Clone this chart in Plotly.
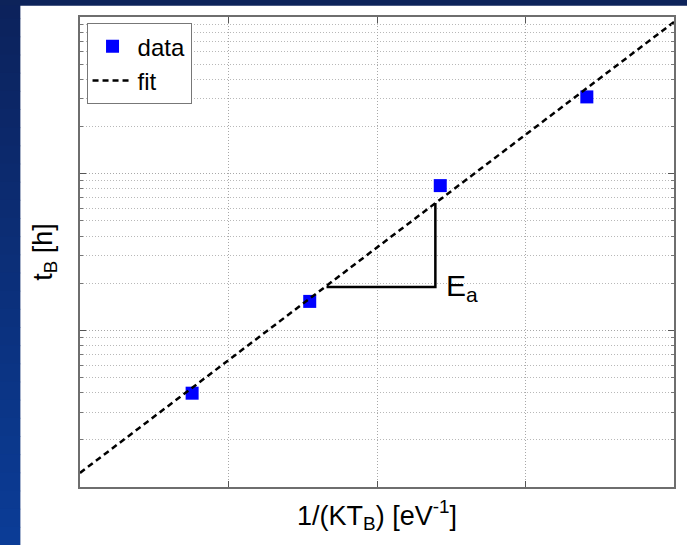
import math
import plotly.graph_objects as go

# ---- data (x axis has no labels, arbitrary units) ----
data_x = [0.755, 1.547, 2.426, 3.413]
data_y = [3.97, 15.3, 83.9, 309.0]

fit_x = [0.0, 4.0]
fit_y = [1.23, 929.0]

tri_x = [1.66, 2.393, 2.393]
tri_y = [18.9, 18.9, 64.9]

ea_x = 2.45
ea_y = 18.7

x_ticks = [1, 2, 3]
y_ticks = [1, 10, 100, 1000]
y_minor = [k * 10 ** d for d in range(0, 3) for k in range(2, 10)]

FONT = "Liberation Sans, Arial, sans-serif"

fig = go.Figure()

fig.add_trace(go.Scatter(
    x=data_x, y=data_y, mode="markers", name="data",
    marker=dict(symbol="square", size=13, color="#0000ff",
                line=dict(width=0)),
))
fig.add_trace(go.Scatter(
    x=fit_x, y=fit_y, mode="lines", name="fit",
    line=dict(color="black", width=2.5, dash="6px,4px"),
))
fig.add_trace(go.Scatter(
    x=tri_x, y=tri_y, mode="lines", showlegend=False,
    line=dict(color="black", width=2.5),
))

# annotations on a log axis take log10 positions
fig.add_annotation(
    x=ea_x, y=math.log10(ea_y), xref="x", yref="y",
    yanchor="middle", xanchor="left",
    text="E<sub>a</sub>", showarrow=False,
    font=dict(family=FONT, size=30, color="black"),
)

# slide background: dark top band and left gradient strip
shapes = []
W, H = 687, 545
pw, ph = 596, 470
l, b = 80, 58


def px2paper_x(px):
    return (px - l) / pw


def px2paper_y(py):
    return (H - b - py) / ph


shapes.append(dict(type="rect", xref="paper", yref="paper",
                   x0=px2paper_x(20), x1=px2paper_x(W + 5),
                   y0=px2paper_y(H + 5), y1=px2paper_y(5.5),
                   fillcolor="white", line=dict(width=0), layer="below"))
n = 30
c0 = (12, 34, 92)
c1 = (11, 60, 150)
for i in range(n):
    t = i / (n - 1)
    col = tuple(round(c0[j] + (c1[j] - c0[j]) * t) for j in range(3))
    y0 = H * i / n
    y1 = H * (i + 1) / n + 1
    shapes.append(dict(type="rect", xref="paper", yref="paper",
                       x0=px2paper_x(-5), x1=px2paper_x(20),
                       y0=px2paper_y(y1), y1=px2paper_y(y0),
                       fillcolor="rgb(%d,%d,%d)" % col, line=dict(width=0),
                       layer="below"))
shapes.append(dict(type="rect", xref="paper", yref="paper",
                   x0=px2paper_x(-5), x1=px2paper_x(W + 5),
                   y0=px2paper_y(5.5), y1=px2paper_y(-5),
                   fillcolor="rgb(13,35,90)", line=dict(width=0),
                   layer="below"))

axis_common = dict(
    showline=True, linecolor="#6e6e6e", linewidth=1.5, mirror="allticks",
    ticks="inside", ticklen=6, tickcolor="#555", tickwidth=1,
    showticklabels=False, zeroline=False,
    showgrid=True, gridcolor="#a8a8a8", gridwidth=1, griddash="1px,2px",
)

fig.update_layout(
    width=W, height=H,
    margin=dict(l=l, r=W - l - pw, t=H - b - ph, b=b),
    paper_bgcolor="rgb(13,35,90)",
    plot_bgcolor="white",
    font=dict(family=FONT, size=26, color="black"),
    shapes=shapes,
    showlegend=True,
    legend=dict(
        x=0.011, y=0.987, xanchor="left", yanchor="top",
        bgcolor="white", bordercolor="#777", borderwidth=1,
        font=dict(family=FONT, size=24, color="black"),
        tracegroupgap=0, itemwidth=40,
    ),
    xaxis=dict(
        range=[0, 4], tickmode="array", tickvals=x_ticks,
        title=dict(text="1/(KT<sub>B</sub>) [eV<sup>-1</sup>]",
                   font=dict(family=FONT, size=27, color="black"),
                   standoff=18),
        **axis_common,
    ),
    yaxis=dict(
        type="log", range=[0, 3], tickmode="array", tickvals=y_ticks,
        minor=dict(tickmode="array", tickvals=y_minor, ticks="inside",
                   ticklen=3, tickcolor="#777", showgrid=True,
                   gridcolor="#b8b8b8", griddash="1px,2px", gridwidth=1),
        title=dict(text="t<sub>B</sub> [h]",
                   font=dict(family=FONT, size=27, color="black"),
                   standoff=18),
        **axis_common,
    ),
)

fig.write_html("out.html", config={"displayModeBar": False},
               post_script="document.body.style.margin='0';")
